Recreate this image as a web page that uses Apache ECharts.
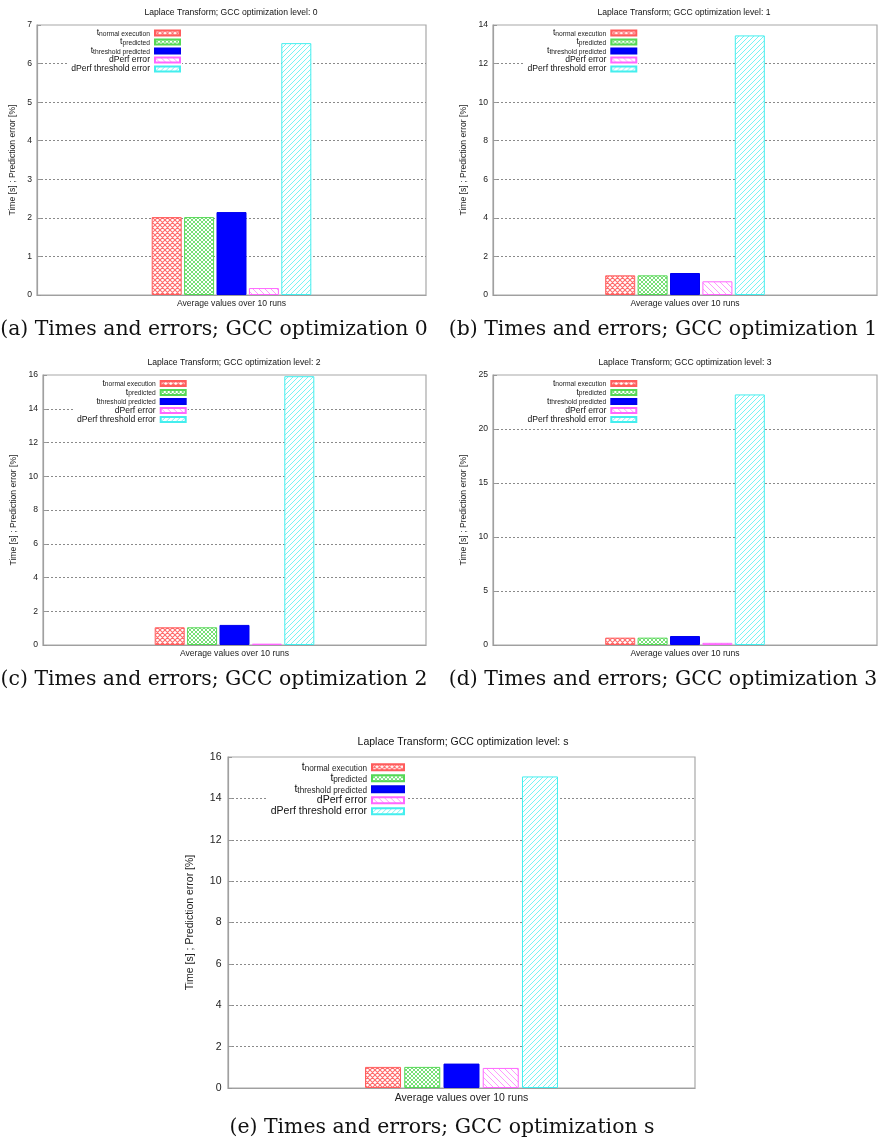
<!DOCTYPE html>
<html>
<head>
<meta charset="utf-8">
<script src="https://cdn.jsdelivr.net/npm/echarts@6/dist/echarts.min.js"></script>
<style>
html,body{margin:0;padding:0;background:#fff;}
#main{width:880px;height:1142px;}
</style>
</head>
<body>
<div id="main"></div>
<script>
// ---------------- data ----------------
const seriesNames = ['t_normal execution', 't_predicted', 't_threshold predicted', 'dPerf error', 'dPerf threshold error'];
const categories = ['Average values over 10 runs'];
const optLevels = ['0', '1', '2', '3', 's'];
const valuesO0 = [2.02, 2.02, 2.15, 0.18, 6.53];
const valuesO1 = [1.02, 1.02, 1.14, 0.71, 13.46];
const valuesO2 = [1.05, 1.05, 1.19, 0.08, 15.93];
const valuesO3 = [0.68, 0.68, 0.83, 0.20, 23.2];
const valuesOs = [1.02, 1.02, 1.18, 0.97, 15.06];
const yMaxes = [7, 14, 16, 25, 16];
const yIntervals = [1, 2, 2, 5, 2];
const chartTitles = optLevels.map(l => 'Laplace Transform; GCC optimization level: ' + l);
const captions = [
  '(a) Times and errors; GCC optimization 0',
  '(b) Times and errors; GCC optimization 1',
  '(c) Times and errors; GCC optimization 2',
  '(d) Times and errors; GCC optimization 3',
  '(e) Times and errors; GCC optimization s'
];
const yLabel = 'Time [s] ; Prediction error [%]';
const allValues = [valuesO0, valuesO1, valuesO2, valuesO3, valuesOs];

// ---------------- layout ----------------
const layouts = [
  {left: 37, top: 25, width: 389, height: 270, barW: 30, barGap: '8%', font: 8.6, sub: 6.7, legRight: 698, legTop: 26.6, pitch: 8.7, sw: 25, sh: 5, yGap: 20, labM: 5, xM: 4, titleX: 231, titleY: 12.3, capX: 214, capY: 330},
  {left: 493, top: 25, width: 384, height: 270, barW: 30, barGap: '8%', font: 8.6, sub: 6.7, legRight: 241.7, legTop: 26.6, pitch: 8.7, sw: 25, sh: 5, yGap: 25, labM: 5, xM: 4, titleX: 684, titleY: 12.3, capX: 663, capY: 330},
  {left: 43, top: 375, width: 383, height: 270, barW: 30, barGap: '8%', font: 8.6, sub: 6.7, legRight: 692.3, legTop: 377, pitch: 8.7, sw: 25, sh: 5, yGap: 25, labM: 5, xM: 4, titleX: 234, titleY: 362.3, capX: 214, capY: 680},
  {left: 493, top: 375, width: 384, height: 270, barW: 30, barGap: '8%', font: 8.6, sub: 6.7, legRight: 241.7, legTop: 377, pitch: 8.7, sw: 25, sh: 5, yGap: 25, labM: 5, xM: 4, titleX: 685, titleY: 362.3, capX: 663, capY: 680},
  {left: 228, top: 757, width: 467, height: 331, barW: 36, barGap: '9%', font: 10.5, sub: 8.2, legRight: 474, legTop: 759.7, pitch: 10.6, sw: 32, sh: 6, yGap: 32, labM: 6.5, xM: 5, titleX: 463, titleY: 741.7, capX: 442, capY: 1128}
];

const SANS = '"Liberation Sans", Arial, Helvetica, sans-serif';
const SERIF = '"DejaVu Serif", serif';

// ---------------- hatch patterns ----------------
function hatch(size, color, lw, dirs) {
  const c = document.createElement('canvas');
  c.width = size; c.height = size;
  const g = c.getContext('2d');
  g.fillStyle = '#fff';
  g.fillRect(0, 0, size, size);
  g.strokeStyle = color;
  g.lineWidth = lw;
  g.beginPath();
  dirs.forEach(d => {
    for (let k = -1; k <= 1; k++) {
      if (d === '/') { g.moveTo(k * size, size); g.lineTo(k * size + size, 0); }
      else { g.moveTo(k * size, 0); g.lineTo(k * size + size, size); }
    }
  });
  g.stroke();
  return {image: c, repeat: 'repeat'};
}

const styles = [
  {color: hatch(5, '#ff6a6a', 1.1, ['/', '\\']), borderColor: '#ff5c5c', borderWidth: 1},
  {color: hatch(4, '#77e077', 1, ['/', '\\']), borderColor: '#55d855', borderWidth: 1},
  {color: '#0000ff', borderColor: '#0000ee', borderWidth: 1},
  {color: hatch(6, '#ff99ff', 1, ['\\']), borderColor: '#ff66ff', borderWidth: 1},
  {color: hatch(5, '#77f4f4', 1, ['/']), borderColor: '#44eeee', borderWidth: 1}
];

// ---------------- option ----------------
const grids = [], xAxes = [], yAxes = [], series = [], legends = [], graphics = [];

layouts.forEach((L, i) => {
  grids.push({left: L.left, top: L.top, width: L.width, height: L.height, show: true,
    borderColor: '#a8a8a8', borderWidth: 1.2, backgroundColor: 'transparent', containLabel: false});
  xAxes.push({type: 'category', gridIndex: i, data: categories,
    axisLine: {show: true, lineStyle: {color: '#a0a0a0', width: 1.2}},
    axisTick: {show: false},
    axisLabel: {show: true, margin: L.xM, fontSize: L.font, fontFamily: SANS, color: '#222'},
    splitLine: {show: false}});
  yAxes.push({type: 'value', gridIndex: i, min: 0, max: yMaxes[i], interval: yIntervals[i],
    name: yLabel, nameLocation: 'middle', nameGap: L.yGap, nameRotate: 90,
    nameTextStyle: {fontSize: L.font, fontFamily: SANS, color: '#222'},
    axisLine: {show: true, lineStyle: {color: '#a0a0a0', width: 1.2}},
    axisTick: {show: true, inside: true, length: 4, lineStyle: {color: '#999'}},
    axisLabel: {margin: L.labM, fontSize: L.font, fontFamily: SANS, color: '#222'},
    splitLine: {show: true, showMinLine: false, showMaxLine: false,
      lineStyle: {color: '#8a8a8a', type: [2, 2], width: 1}}});
  seriesNames.forEach((n, j) => {
    series.push({type: 'bar', name: n, xAxisIndex: i, yAxisIndex: i,
      data: [allValues[i][j]], barWidth: L.barW, barGap: L.barGap,
      itemStyle: styles[j], emphasis: {disabled: true}, animation: false});
  });
  const subLH = L.pitch - 2 * (L.font * 0.29);
  legends.push({orient: 'vertical', align: 'right', right: L.legRight, top: L.legTop,
    itemWidth: L.sw, itemHeight: L.sh, itemGap: 0, icon: 'rect',
    padding: [2, 1, 2, 3], backgroundColor: '#fff', selectedMode: false,
    data: seriesNames,
    formatter: function (name) {
      if (name.indexOf('t_') === 0) return '{t|t}{s|' + name.slice(2) + '}';
      return '{n|' + name + '}';
    },
    textStyle: {fontFamily: SANS, color: '#111', fontSize: L.font,
      rich: {
        t: {fontSize: L.font, fontFamily: SANS, color: '#111', lineHeight: L.pitch, verticalAlign: 'middle'},
        s: {fontSize: L.sub, fontFamily: SANS, color: '#222', lineHeight: Math.max(2, subLH), verticalAlign: 'bottom'},
        n: {fontSize: L.font, fontFamily: SANS, color: '#111', lineHeight: L.pitch}
      }}});
  graphics.push({type: 'text', x: L.titleX, y: L.titleY, silent: true,
    style: {text: chartTitles[i], fontSize: L.font, fontFamily: SANS, fill: '#111', align: 'center', verticalAlign: 'middle'}});
  graphics.push({type: 'text', x: L.capX, y: L.capY, silent: true,
    style: {text: captions[i], fontSize: 20.4, fontFamily: SERIF, fill: '#111', align: 'center', verticalAlign: 'middle'}});
});

const chart = echarts.init(document.getElementById('main'), null, {renderer: 'canvas'});
chart.setOption({
  animation: false,
  backgroundColor: '#fff',
  grid: grids,
  xAxis: xAxes,
  yAxis: yAxes,
  legend: legends,
  series: series,
  graphic: graphics
});
</script>
</body>
</html>
